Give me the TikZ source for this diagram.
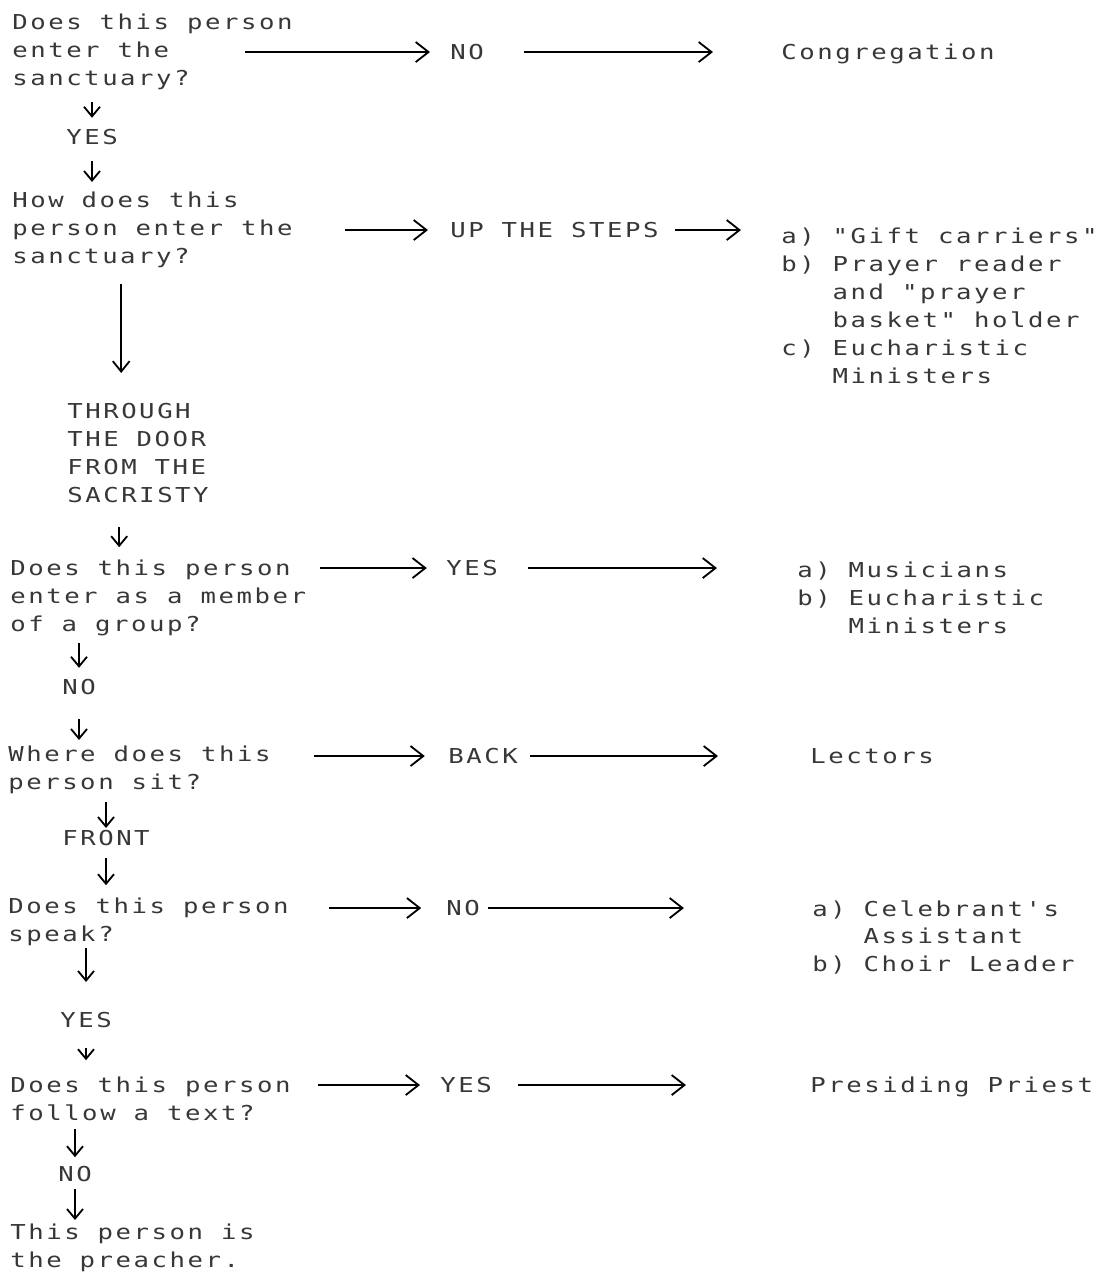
\documentclass[tikz,border=0pt]{standalone}
\usepackage{fontspec}
\newfontfamily\dotfont[FakeStretch=1.25, LetterSpace=12.4]{DejaVu Sans Mono}
\definecolor{inkgray}{RGB}{55, 55, 55}
\usetikzlibrary{arrows.meta, calc}
\newcommand{\listindent}{\phantom{a) }}

\begin{document}
\begin{tikzpicture}[x=0.025cm, y=-0.025cm,
    txt/.style={anchor=north west, inner sep=0pt, align=left, text=inkgray,
      font=\dotfont\fontsize{14.6}{19.9}\selectfont},
    vline/.style={line width=1.3pt, -{Straight Barb[length=0.24cm, width=0.4cm]}},
    hline/.style={line width=1.3pt, -{Straight Barb[length=0.32cm, width=0.5cm]}}]
  \useasboundingbox (0, 0) rectangle (1109, 1279);

  % Questions down the left side
  \node[txt] (q1) at (12, 14) {Does this person\\enter the\\sanctuary?};
  \node[txt] (yes1) at (66, 129) {YES};
  \node[txt] (q2) at (12, 192) {How does this\\person enter the\\sanctuary?};
  \node[txt] (door) at (67, 403) {THROUGH\\THE DOOR\\FROM THE\\SACRISTY};
  \node[txt] (q3) at (10, 560) {Does this person\\enter as a member\\of a group?};
  \node[txt] (no2) at (62, 679) {NO};
  \node[txt] (q4) at (8, 746) {Where does this\\person sit?};
  \node[txt] (front) at (62, 830) {FRONT};
  \node[txt] (q5) at (8, 898) {Does this person\\speak?};
  \node[txt] (yes3) at (60, 1012) {YES};
  \node[txt] (q6) at (10, 1077) {Does this person\\follow a text?};
  \node[txt] (no3) at (58, 1166) {NO};
  \node[txt] (q7) at (10, 1224) {This person is\\the preacher.};

  % Answers in the middle
  \node[txt] (no1) at (450, 44) {NO};
  \node[txt] (steps) at (450, 222) {UP THE STEPS};
  \node[txt] (yes2) at (446, 560) {YES};
  \node[txt] (back) at (448, 748) {BACK};
  \node[txt] (no4) at (446, 900) {NO};
  \node[txt] (yes4) at (440, 1077) {YES};

  % Roles on the right
  \node[txt] (cong) at (781, 44) {Congregation};
  \node[txt] (stepsroles) at (781, 228) {a) "Gift carriers"\\b) Prayer reader\\\listindent and "prayer\\\listindent basket" holder\\c) Eucharistic\\\listindent Ministers};
  \node[txt] (grouproles) at (797, 562) {a) Musicians\\b) Eucharistic\\\listindent Ministers};
  \node[txt] (lectors) at (810, 748) {Lectors};
  \node[txt] (speakroles) at (812, 900) {a) Celebrant's\\\listindent Assistant\\b) Choir Leader};
  \node[txt] (priest) at (810, 1077) {Presiding Priest};

  % Where the long arrows meet the sacristy block
  \coordinate (doortop) at ([xshift=-0.42cm]door.north);
  \coordinate (doorfoot) at ([xshift=-0.47cm]door.south);

  % Downward arrows
  \draw[vline, shorten <=0.3cm, shorten >=0.28cm] (q1.south -| yes1.north) -- (yes1.north);
  \draw[vline, shorten <=0.4cm, shorten >=0.25cm] (yes1.south) -- (q2.north -| yes1.south);
  \draw[vline, shorten <=0.38cm, shorten >=0.75cm, -{Straight Barb[length=0.26cm, width=0.42cm]}]
    (q2.south -| doortop) -- (doortop);
  \draw[vline, shorten <=0.6cm, shorten >=0.32cm] (doorfoot) -- (q3.north -| doorfoot);
  \draw[vline, shorten <=0.15cm, shorten >=0.28cm] (q3.south -| no2.north) -- (no2.north);
  \draw[vline, shorten <=0.6cm, shorten >=0.15cm] (no2.south) -- (q4.north -| no2.south);
  \draw[vline, shorten <=0.2cm, shorten >=0.05cm] (q4.south -| front.north) -- (front.north);
  \draw[vline, shorten <=0.3cm, shorten >=0.32cm] (front.south) -- (q5.north -| front.south);
  \draw[vline, shorten <=0.05cm, shorten >=0.75cm] (q5.south -| yes3.north) -- (yes3.north);
  \draw[vline, shorten <=0.5cm, shorten >=0.42cm] (yes3.south) -- (q6.north -| yes3.south);
  \draw[vline, shorten <=0.2cm, shorten >=0.22cm] (q6.south -| no3.north) -- (no3.north);
  \draw[vline, shorten <=0.18cm, shorten >=0.1cm] (no3.south) -- (q7.north -| no3.south);

  % Arrows across each row
  \draw[hline, shorten <=-1.2cm, shorten >=0.5cm] (q1.east |- no1.west) -- (no1.west);
  \draw[hline, shorten <=1.0cm, shorten >=1.7cm] (no1.east) -- (cong.west |- no1.east);
  \draw[hline, shorten <=1.3cm, shorten >=0.55cm] (q2.east |- steps.west) -- (steps.west);
  \draw[hline, shorten <=0.4cm, shorten >=1.0cm] (steps.east) -- (stepsroles.west |- steps.east);
  \draw[hline, shorten <=0.33cm, shorten >=0.48cm] (q3.east |- yes2.west) -- (yes2.west);
  \draw[hline, shorten <=0.75cm, shorten >=2.0cm] (yes2.east) -- (grouproles.west |- yes2.east);
  \draw[hline, shorten <=1.07cm, shorten >=0.58cm] (q4.east |- back.west) -- (back.west);
  \draw[hline, shorten <=0.3cm, shorten >=2.3cm] (back.east) -- (lectors.west |- back.east);
  \draw[hline, shorten <=1.0cm, shorten >=0.62cm] (q5.east |- no4.west) -- (no4.west);
  \draw[hline, shorten <=0.2cm, shorten >=3.2cm] (no4.east) -- (speakroles.west |- no4.east);
  \draw[hline, shorten <=0.68cm, shorten >=0.5cm] (q6.east |- yes4.west) -- (yes4.west);
  \draw[hline, shorten <=0.65cm, shorten >=3.1cm] (yes4.east) -- (priest.west |- yes4.east);
\end{tikzpicture}
\end{document}
